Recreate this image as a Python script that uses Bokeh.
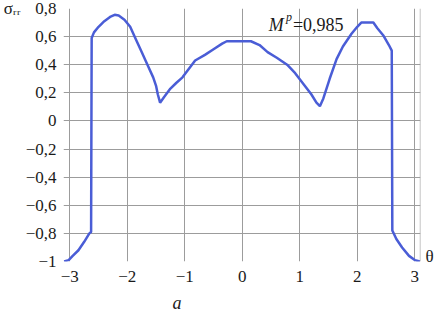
from bokeh.plotting import figure
from bokeh.models import Label, Span, FixedTicker, Range1d, LinearAxis, Title
from bokeh.embed import file_html
from bokeh.resources import INLINE

# data
theta = [-3.10, -3.02, -2.95, -2.85, -2.75, -2.66, -2.63, -2.62, -2.58, -2.50, -2.40, -2.30,
         -2.22, -2.15, -2.05, -1.95, -1.85, -1.75, -1.65, -1.55, -1.50, -1.47, -1.43, -1.36,
         -1.25, -1.15, -1.04, -0.82, -0.65, -0.50, -0.35, -0.27, 0.00, 0.15, 0.30, 0.44,
         0.60, 0.78, 0.92, 1.07, 1.20, 1.29, 1.35, 1.41, 1.52, 1.64, 1.75, 1.90, 2.00,
         2.07, 2.28, 2.35, 2.45, 2.55, 2.60, 2.61, 2.68, 2.78, 2.90, 3.00, 3.09]
sigma = [-1.00, -0.99, -0.96, -0.92, -0.86, -0.80, -0.79, 0.59, 0.63, 0.67, 0.71, 0.74,
         0.755, 0.75, 0.72, 0.67, 0.58, 0.49, 0.40, 0.31, 0.25, 0.19, 0.13, 0.17,
         0.23, 0.27, 0.31, 0.43, 0.47, 0.51, 0.55, 0.567, 0.567, 0.567, 0.54, 0.49,
         0.45, 0.40, 0.34, 0.26, 0.19, 0.13, 0.105, 0.16, 0.30, 0.44, 0.53, 0.62, 0.67,
         0.70, 0.70, 0.66, 0.61, 0.54, 0.50, -0.78, -0.84, -0.90, -0.96, -0.99, -1.00]

x_ticks = [-3, -2, -1, 0, 1, 2, 3]
x_tick_labels = ["\u22123", "\u22122", "\u22121", "0", "1", "2", "3"]
y_ticks = [-1, -0.8, -0.6, -0.4, -0.2, 0, 0.2, 0.4, 0.6, 0.8]
y_tick_labels = ["\u22121", "\u22120,8", "\u22120,6", "\u22120,4", "\u22120,2", "0",
                 "0,2", "0,4", "0,6", "0,8"]
y_title = "\u03c3\u1d63\u1d63"
x_title_pos = [-0.965]
x_title = ["\u03b8"]
caption = "a"
note_parts = ["M", "p", "=0,985"]

FONT = "Liberation Serif"
GRID = "#9c9c9c"
INK = "#1a1a1a"

p = figure(width=436, height=319, output_backend="svg", toolbar_location=None,
           x_range=Range1d(-3.11, 3.10), y_range=Range1d(-1.0, 0.8),
           min_border_left=59, min_border_right=14, min_border_top=8, min_border_bottom=58)
p.outline_line_color = None
p.background_fill_color = "white"
p.border_fill_color = "white"

xax = p.below[0]
yax = p.left[0]
xax.ticker = FixedTicker(ticks=x_ticks)
yax.ticker = FixedTicker(ticks=y_ticks)
xax.major_label_overrides = {t: s for t, s in zip(x_ticks, x_tick_labels)}
yax.major_label_overrides = {t: s for t, s in zip(y_ticks, y_tick_labels)}

rax = LinearAxis(ticker=FixedTicker(ticks=x_title_pos),
                 major_label_overrides={t: s for t, s in zip(x_title_pos, x_title)})
p.add_layout(rax, "right")

for ax in (xax, yax, rax):
    ax.axis_line_color = None
    ax.major_tick_line_color = None
    ax.minor_tick_line_color = None
    ax.major_tick_out = 0
    ax.major_tick_in = 0
    ax.major_label_text_font = FONT
    ax.major_label_text_font_size = "17px"
    ax.major_label_text_color = INK
xax.major_label_standoff = 9
yax.major_label_standoff = 7
rax.major_label_standoff = 5

yax.axis_label = y_title
yax.axis_label_orientation = "horizontal"
yax.axis_label_align = "end"
yax.axis_label_standoff = 2
yax.axis_label_text_font = FONT
yax.axis_label_text_font_size = "17px"
yax.axis_label_text_font_style = "normal"
yax.axis_label_text_color = INK

p.xgrid.ticker = FixedTicker(ticks=x_ticks)
p.ygrid.ticker = FixedTicker(ticks=y_ticks)
for g in (p.xgrid, p.ygrid):
    g.grid_line_color = GRID
    g.grid_line_width = 1
p.add_layout(Span(location=3.097, dimension="height", line_color=GRID, line_width=1))

p.line(theta, sigma, line_color="#4a5dd6", line_width=2.5)

p.add_layout(Title(text=caption, align="left", offset=109, standoff=12,
                   text_font=FONT, text_font_size="18px", text_font_style="italic",
                   text_color=INK), "below")

def lab(x, y, t, size="17px", style="normal"):
    p.add_layout(Label(x=x, y=y, text=t, text_font=FONT, text_font_size=size,
                       text_font_style=style, text_baseline="alphabetic",
                       text_align="left", text_color=INK))

lab(0.46, 0.685, note_parts[0], size="18px", style="italic")
lab(0.76, 0.74, note_parts[1], size="12px", style="italic")
lab(0.88, 0.685, note_parts[2], size="18px")

open("out.html", "w").write(file_html(p, INLINE))
